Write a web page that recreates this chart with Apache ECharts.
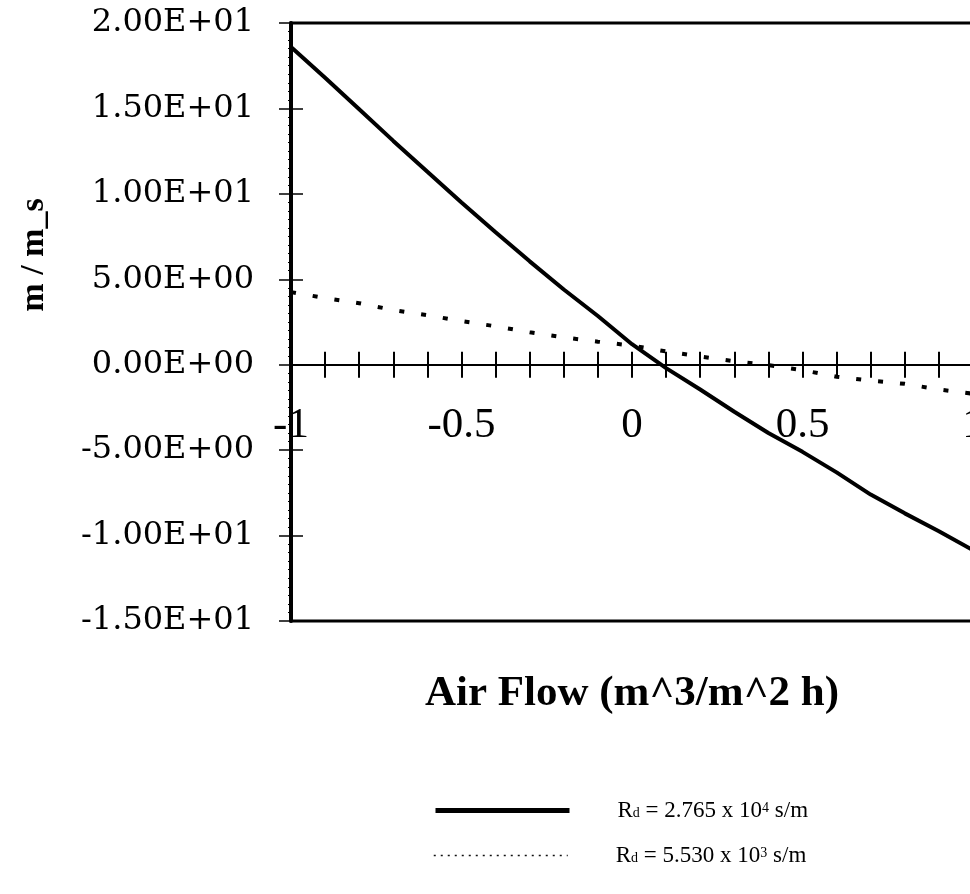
<!DOCTYPE html>
<html>
 <head>
  <title>Air Flow chart</title>
  <script src="https://cdn.jsdelivr.net/npm/echarts@6/dist/echarts.min.js"></script>
  <style>
    html, body, #container {
    width: 100%;
    height: 100%;
    margin: 0;
    padding: 0;
    background: #fff;
    }
  </style>
 </head>

<body>
  <div id="container"></div>
  <script>

    // air flow values (m^3/m^2 h)
    var airFlow = [-1, -0.9, -0.8, -0.7, -0.6, -0.5, -0.4, -0.3, -0.2, -0.1, 0,
                   0.1, 0.2, 0.3, 0.4, 0.5, 0.6, 0.7, 0.8, 0.9, 1];

    // m / m_s for Rd = 2.765 x 10^4 s/m
    var ratioHigh = [18.6, 16.8, 14.95, 13.1, 11.3, 9.5, 7.75, 6.05, 4.4, 2.85, 1.2,
                     -0.2, -1.45, -2.75, -4.0, -5.1, -6.3, -7.6, -8.7, -9.75, -10.85];

    // m / m_s for Rd = 5.530 x 10^3 s/m
    var ratioLow = [4.25, 3.9, 3.6, 3.2, 2.9, 2.55, 2.25, 1.9, 1.6, 1.35, 1.12,
                    0.78, 0.48, 0.2, -0.02, -0.32, -0.7, -0.93, -1.12, -1.45, -1.7];

    var yTickValues = [-15, -10, -5, 0, 5, 10, 15, 20];
    var yTickLabels = ['-1.50E+01', '-1.00E+01', '-5.00E+00', '0.00E+00',
                       '5.00E+00', '1.00E+01', '1.50E+01', '2.00E+01'];
    var xTickValues = [-1, -0.5, 0, 0.5, 1];
    var xTickLabels = ['-1', '-0.5', '0', '0.5', '1'];

    var seriesNames = ['Rd = 2.765 x 10^4 s/m', 'Rd = 5.530 x 10^3 s/m'];
    var legendRich = [
      '{g|}{t|R}{s|d}{t| = 2.765 x 10}{p|4}{t| s/m}',
      '{g|}{t|R}{s|d}{t| = 5.530 x 10}{p|3}{t| s/m}'
    ];

    function pairs(xs, ys) {
      return xs.map(function (x, i) { return [x, ys[i]]; });
    }

    function lookup(values, labels, v) {
      for (var i = 0; i < values.length; i++) {
        if (Math.abs(values[i] - v) < 1e-6) return labels[i];
      }
      return '';
    }

    var serif = 'Liberation Serif';
    var gridBottomY = 621;

    var legendText = {
      rich: {
        g: { width: 43 },
        t: { fontFamily: serif, fontSize: 23, color: '#000', lineHeight: 26 },
        s: { fontFamily: serif, fontSize: 14, color: '#000', lineHeight: 14, verticalAlign: 'bottom' },
        p: { fontFamily: serif, fontSize: 14, color: '#000', lineHeight: 14, verticalAlign: 'top' }
      }
    };

    function makeLegend(i, top, lineStyle) {
      return {
        orient: 'horizontal',
        left: 433,
        top: top,
        padding: 0,
        itemWidth: 134,
        itemHeight: 20,
        itemStyle: { opacity: 0 },
        data: [{ name: seriesNames[i], lineStyle: lineStyle }],
        formatter: function (name) { return legendRich[i]; },
        textStyle: legendText
      };
    }

    var chart = echarts.init(document.getElementById('container'));

    var option = {
      animation: false,
      backgroundColor: '#fff',
      grid: {
        left: 291,
        right: -3,
        top: 23,
        bottom: 894 - gridBottomY,
        containLabel: false,
        outerBoundsMode: 'none',
        show: true,
        borderColor: '#000',
        borderWidth: 3,
        backgroundColor: 'transparent'
      },
      legend: [
        makeLegend(0, 793, { width: 5, color: '#000', type: 'solid' }),
        makeLegend(1, 838, { width: 1.5, color: '#111', type: [2, 5] })
      ],
      xAxis: [
        {
          // labels and title, kept at the grid bottom
          type: 'value',
          min: -1,
          max: 1,
          interval: 0.1,
          position: 'bottom',
          name: 'Air Flow (m^3/m^2 h)',
          nameLocation: 'middle',
          nameGap: 39,
          nameMoveOverlap: false,
          nameTextStyle: { fontFamily: serif, fontWeight: 'bold', fontSize: 43, color: '#000' },
          axisLine: { onZero: false, show: false },
          axisTick: { show: false },
          axisLabel: {
            margin: -217,
            fontFamily: serif,
            fontSize: 43,
            lineHeight: 43,
            color: '#000',
            formatter: function (v) { return lookup(xTickValues, xTickLabels, v); }
          },
          splitLine: { show: false }
        },
        {
          // zero line with ticks pointing up
          type: 'value',
          min: -1,
          max: 1,
          interval: 0.1,
          position: 'top',
          axisLine: { onZero: true, show: true, lineStyle: { color: '#000', width: 2 } },
          axisTick: { show: true, length: 13, lineStyle: { color: '#000', width: 2 } },
          axisLabel: { show: false },
          splitLine: { show: false }
        },
        {
          // ticks pointing down from the zero line
          type: 'value',
          min: -1,
          max: 1,
          interval: 0.1,
          position: 'bottom',
          axisLine: { onZero: true, show: false },
          axisTick: { show: true, length: 13, lineStyle: { color: '#000', width: 2 } },
          axisLabel: { show: false },
          splitLine: { show: false }
        }
      ],
      yAxis: [
        {
          type: 'value',
          min: -15,
          max: 20,
          interval: 5,
          position: 'left',
          name: 'm / m_s',
          nameLocation: 'middle',
          nameGap: 230,
          nameMoveOverlap: false,
          nameTextStyle: {
            fontFamily: serif, fontWeight: 'bold', fontSize: 34, color: '#000',
            padding: [0, 0, 0, 134]
          },
          axisLine: { onZero: false, lineStyle: { color: '#000', width: 4 } },
          axisTick: { show: true, length: 12, lineStyle: { color: '#000', width: 1.5 } },
          minorTick: { show: true, splitNumber: 10, length: 3, lineStyle: { color: '#000', width: 1 } },
          axisLabel: {
            margin: 37,
            fontFamily: 'DejaVu Serif',
            fontSize: 32,
            color: '#000',
            formatter: function (v) { return lookup(yTickValues, yTickLabels, v); }
          },
          splitLine: { show: false }
        },
        {
          type: 'value',
          min: -15,
          max: 20,
          interval: 5,
          position: 'left',
          axisLine: { onZero: false, show: false },
          axisTick: { show: true, inside: true, length: 12, lineStyle: { color: '#000', width: 1.5 } },
          axisLabel: { show: false },
          splitLine: { show: false }
        }
      ],
      series: [
        {
          name: seriesNames[0],
          type: 'line',
          xAxisIndex: 0,
          yAxisIndex: 0,
          symbol: 'none',
          itemStyle: { color: '#000' },
          lineStyle: { color: '#000', width: 4 },
          data: pairs(airFlow, ratioHigh)
        },
        {
          name: seriesNames[1],
          type: 'line',
          xAxisIndex: 0,
          yAxisIndex: 0,
          symbol: 'none',
          itemStyle: { color: '#000' },
          lineStyle: { color: '#000', width: 4, type: [5, 17] },
          data: pairs(airFlow, ratioLow)
        }
      ]
    };

    chart.setOption(option);
  </script>
</body>
</html>
